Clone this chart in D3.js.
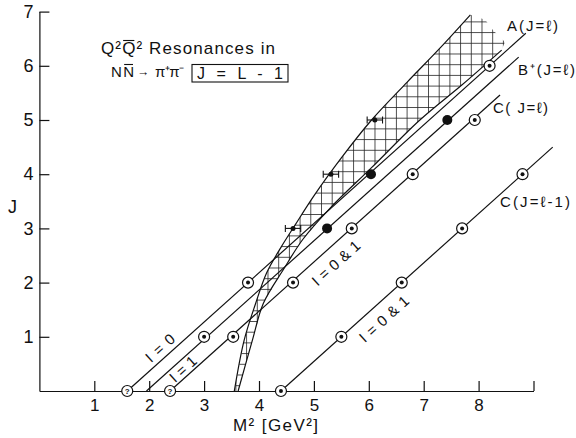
<!DOCTYPE html>
<html><head><meta charset="utf-8">
<script src="https://cdn.jsdelivr.net/npm/d3@7"></script>
<style>
body{margin:0;background:#fff}
text{font-family:"Liberation Sans",Arial,sans-serif;fill:#111}
</style>
</head><body>
<svg id="c" width="576" height="438"></svg>
<script>
// ---------- data ----------
const xTicks = [1, 2, 3, 4, 5, 6, 7, 8, 9];
const xTickLabels = ["1", "2", "3", "4", "5", "6", "7", "8", ""];
const yTicks = [1, 2, 3, 4, 5, 6, 7];
const yTickLabels = ["1", "2", "3", "4", "5", "6", "7"];

// trajectories (M^2 start/end, J start/end)
const trajNames  = ["A(J=ℓ)", "B⁺(J=ℓ)", "C( J=ℓ)", "C(J=ℓ-1)"];
const trajM2From = [1.6, 1.95, 2.38, 4.4];
const trajJFrom  = [0, 0, 0, 0];
const trajM2To   = [8.86, 8.73, 8.39, 9.35];
const trajJTo    = [6.6, 6.16, 5.46, 4.5];

// ringed (circled-dot) states
const ringM2 = [3.8, 8.2, 3.0, 3.53, 4.62, 5.69, 6.8, 7.93, 4.4, 5.5, 6.6, 7.7, 8.8];
const ringJ  = [2, 6, 1, 1, 2, 3, 4, 5, 0, 1, 2, 3, 4];
// questionable states
const qM2 = [1.6, 2.38];
const qJ  = [0, 0];
// filled dots
const fillM2 = [5.24, 6.04, 7.43];
const fillJ  = [3, 4, 5];
// experimental resonances with error bars
const expM2  = [4.62, 5.31, 6.11];
const expJ   = [3, 4, 5];
const expErr = [0.14, 0.14, 0.14];

// hatched band
const bandUpM2 = [3.55, 3.73, 3.94, 4.14, 4.4, 4.65, 5.0, 5.5, 6.05, 6.7, 7.3, 7.85];
const bandUpJ  = [0, 0.94, 1.62, 2.18, 2.65, 3.05, 3.6, 4.3, 5.0, 5.7, 6.33, 6.94];
const bandTopM2 = [8.12, 8.26, 8.48];
const bandTopJ  = [6.85, 6.66, 6.44];
const bandLoM2 = [3.62, 3.88, 4.08, 4.45, 4.8, 5.3, 6.05, 6.93, 7.7, 8.42];
const bandLoJ  = [0, 0.94, 1.62, 2.25, 2.8, 3.38, 4.12, 5.0, 5.65, 6.29];

// ---------- chart ----------
const svg = d3.select("#c");
const x = d3.scaleLinear().domain([0, 9]).range([39.4, 533.5]);
const y = d3.scaleLinear().domain([0, 7]).range([391, 11.6]);
const ink = "#111";

const defs = svg.append("defs");
const pat = defs.append("pattern").attr("id", "hatch")
  .attr("patternUnits", "userSpaceOnUse").attr("width", 10.7).attr("height", 10.7);
pat.append("path").attr("d", "M0.5,0 V10.7 M0,0.5 H10.7")
  .attr("stroke", "#222").attr("stroke-width", 0.8).attr("fill", "none");

// band
const bandUp = bandUpM2.map((m, i) => [m, bandUpJ[i]]);
const bandTop = bandTopM2.map((m, i) => [m, bandTopJ[i]]);
const bandLo = bandLoM2.map((m, i) => [m, bandLoJ[i]]);
const bandPoly = bandUp.concat(bandTop, bandLo.slice().reverse());
const linGen = d3.line().x(d => x(d[0])).y(d => y(d[1]));
const curGen = d3.line().x(d => x(d[0])).y(d => y(d[1])).curve(d3.curveCatmullRom);
svg.append("path").attr("d", linGen(bandPoly) + "Z").attr("fill", "url(#hatch)").attr("stroke", "none");
svg.append("path").attr("d", curGen(bandUp)).attr("fill", "none").attr("stroke", ink).attr("stroke-width", 1.2);
svg.append("path").attr("d", curGen(bandLo)).attr("fill", "none").attr("stroke", ink).attr("stroke-width", 1.2);

// trajectories
trajNames.forEach((n, i) => {
  svg.append("line")
    .attr("x1", x(trajM2From[i])).attr("y1", y(trajJFrom[i]))
    .attr("x2", x(trajM2To[i])).attr("y2", y(trajJTo[i]))
    .attr("stroke", ink).attr("stroke-width", 1.2);
});

// axes
const xAxis = d3.axisBottom(x).tickValues(xTicks).tickFormat((d, i) => xTickLabels[i])
  .tickSize(-10).tickSizeOuter(0).tickPadding(8);
const gx = svg.append("g").attr("transform", `translate(0,${y(0)})`).call(xAxis);
const yAxis = d3.axisLeft(y).tickValues(yTicks).tickFormat((d, i) => yTickLabels[i])
  .tickSize(-10).tickSizeOuter(0).tickPadding(6);
const gy = svg.append("g").attr("transform", `translate(${x(0)},0)`).call(yAxis);
[gx, gy].forEach(g => {
  g.selectAll("path,line").attr("stroke", ink).attr("stroke-width", 1.2);
  g.selectAll("text").attr("fill", ink).style("font-family", '"Liberation Sans",Arial,sans-serif');
});
gx.selectAll("text").style("font-size", "17px");
gy.selectAll("text").style("font-size", "18px");

// ringed points
const ring = svg.append("g");
ringM2.forEach((m, i) => {
  ring.append("circle").attr("cx", x(m)).attr("cy", y(ringJ[i])).attr("r", 5.5)
    .attr("fill", "#fff").attr("stroke", ink).attr("stroke-width", 1.2);
  ring.append("circle").attr("cx", x(m)).attr("cy", y(ringJ[i])).attr("r", 2).attr("fill", ink);
});
qM2.forEach((m, i) => {
  ring.append("circle").attr("cx", x(m)).attr("cy", y(qJ[i])).attr("r", 5.5)
    .attr("fill", "#fff").attr("stroke", ink).attr("stroke-width", 1.2);
  ring.append("text").attr("x", x(m)).attr("y", y(qJ[i]) + 3).attr("text-anchor", "middle")
    .style("font-size", "8px").style("font-weight", "bold").text("?");
});
fillM2.forEach((m, i) => {
  ring.append("circle").attr("cx", x(m)).attr("cy", y(fillJ[i])).attr("r", 5).attr("fill", ink);
});
expM2.forEach((m, i) => {
  const cy = y(expJ[i]);
  const x1 = x(m - expErr[i]), x2 = x(m + expErr[i]);
  ring.append("line").attr("x1", x1).attr("x2", x2).attr("y1", cy).attr("y2", cy).attr("stroke", ink).attr("stroke-width", 1.1);
  [x1, x2].forEach(xx => ring.append("line").attr("x1", xx).attr("x2", xx).attr("y1", cy - 3.5).attr("y2", cy + 3.5).attr("stroke", ink).attr("stroke-width", 1.1));
  ring.append("circle").attr("cx", x(m)).attr("cy", cy).attr("r", 2.5).attr("fill", ink);
});

// trajectory labels
const tl = [[507, 31, 51], [518, 75, 57], [493, 113, 55], [500, 207, 70]];
trajNames.forEach((n, i) => {
  svg.append("text").attr("x", tl[i][0]).attr("y", tl[i][1])
    .attr("textLength", tl[i][2]).attr("lengthAdjust", "spacing")
    .style("font-size", "15px").text(n);
});

// rotated isospin labels
const iso = [["I = 0", 160, 348, 34], ["I = 1", 183, 369, 31], ["I = 0 & 1", 336, 263, 59], ["I = 0 & 1", 384, 319, 61]];
iso.forEach(d => {
  svg.append("text").attr("transform", `translate(${d[1]},${d[2]}) rotate(-42)`)
    .attr("text-anchor", "middle").attr("dy", "0.35em")
    .attr("textLength", d[3]).attr("lengthAdjust", "spacing")
    .style("font-size", "15px").text(d[0]);
});

// overline helper (uses the rendered glyph box)
function overline(t, idx) {
  const b = t.node().getExtentOfChar(idx);
  svg.append("line").attr("x1", b.x + 1).attr("x2", b.x + b.width - 1)
    .attr("y1", b.y + 1.5).attr("y2", b.y + 1.5).attr("stroke", ink).attr("stroke-width", 1.1);
}

// title
const t1 = svg.append("text").attr("x", 101).attr("y", 54).attr("textLength", 174).attr("lengthAdjust", "spacing")
  .style("font-size", "17px").text("Q²Q² Resonances in");
overline(t1, 2);
const t2 = svg.append("text").attr("x", 111).attr("y", 77).attr("textLength", 23).attr("lengthAdjust", "spacing")
  .style("font-size", "15px").text("NN");
overline(t2, 1);
svg.append("text").attr("x", 137).attr("y", 76).attr("textLength", 12).attr("lengthAdjust", "spacingAndGlyphs")
  .style("font-size", "13px").text("→");
svg.append("text").attr("x", 155).attr("y", 77).attr("textLength", 29).attr("lengthAdjust", "spacing")
  .style("font-size", "15px").text("π⁺π⁻");
svg.append("rect").attr("x", 192).attr("y", 64.5).attr("width", 96).attr("height", 17.5)
  .attr("fill", "none").attr("stroke", ink).attr("stroke-width", 1.1);
svg.append("text").attr("x", 197).attr("y", 79).attr("textLength", 86).attr("lengthAdjust", "spacing")
  .style("font-size", "16px").text("J = L - 1");

// axis titles
svg.append("text").attr("x", 8).attr("y", 213).style("font-size", "18px").text("J");
svg.append("text").attr("x", 233).attr("y", 431).attr("textLength", 85).attr("lengthAdjust", "spacing")
  .style("font-size", "17px").text("M² [GeV²]");
</script>
</body></html>
